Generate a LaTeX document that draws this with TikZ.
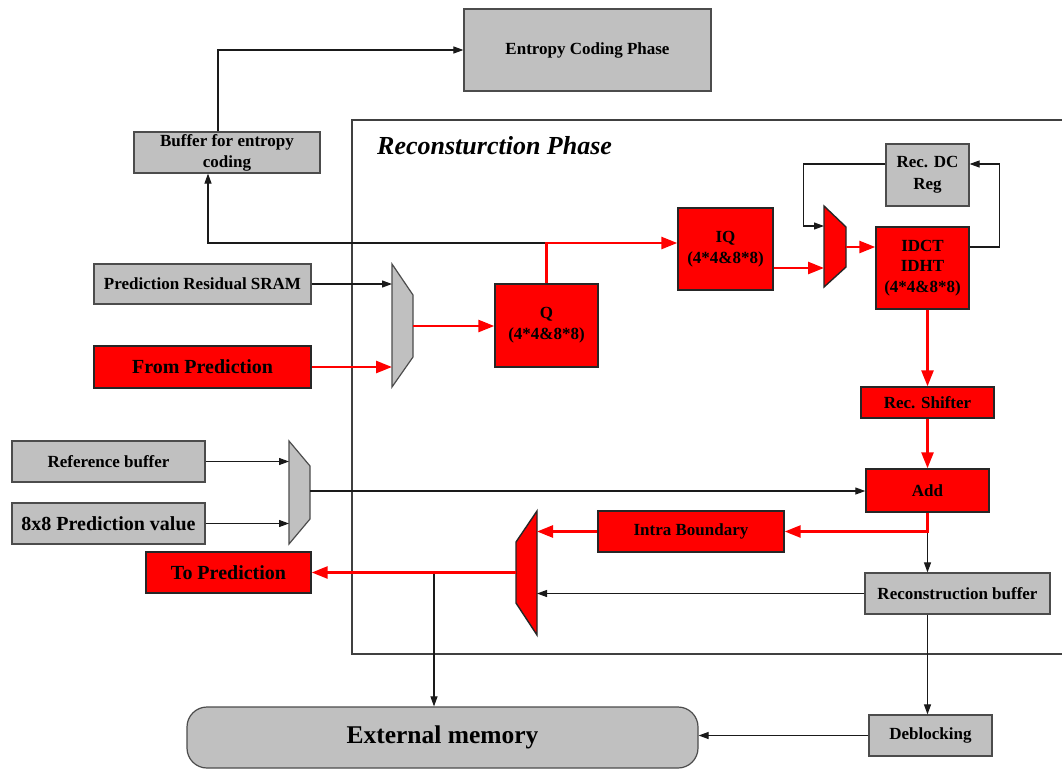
\documentclass[tikz,border=0pt]{standalone}
\usepackage{fontspec}
\setmainfont{Liberation Serif}
\usetikzlibrary{arrows.meta}
\definecolor{boxgray}{HTML}{C0C0C0}
\definecolor{wire}{HTML}{1A1A1A}
\definecolor{hotred}{HTML}{FF0000}
\begin{document}
\begin{tikzpicture}[x=1pt,y=-1pt,
  lbl/.style={font=\bfseries\fontsize{17}{21}\selectfont, align=center, inner sep=0pt},
  gbox/.style={lbl, draw=black!70, fill=boxgray, line width=1.2pt},
  rbox/.style={lbl, draw=black!85, fill=hotred, line width=1.4pt},
  bl/.style={draw=wire, line width=1.1pt, -{Triangle[length=10pt,width=7pt]}},
  rl/.style={draw=hotred, line width=2.6pt, -{Triangle[length=16pt,width=12pt]}},
  gmux/.style={draw=black!70, fill=boxgray, line width=1.2pt},
  rmux/.style={draw=black!85, fill=hotred, line width=1.4pt},
  frame/.style={draw=black!75, line width=1.1pt}]
\useasboundingbox[fill=white] (0,0) rectangle (1062,769);

% phase frame, open towards the right edge
\draw[frame] (1062,120) -- (352,120) -- (352,654) -- (1062,654);
\node[font=\bfseries\itshape\fontsize{26}{30}\selectfont, anchor=base west, inner sep=0pt] (title) at (377,154) {Reconsturction Phase};

% blocks
\node[gbox, minimum width=247pt, minimum height=82pt] (entropy) at (587.5,50) {Entropy Coding Phase};
\node[gbox, minimum width=186pt, minimum height=41pt] (buf) at (227,152.5) {Buffer for entropy\\coding};
\node[gbox, minimum width=217pt, minimum height=40pt] (sram) at (202.5,284) {Prediction Residual SRAM};
\node[rbox, minimum width=217pt, minimum height=42pt, font=\bfseries\fontsize{20}{24}\selectfont] (fromp) at (202.5,367) {From Prediction};
\node[rbox, minimum width=103pt, minimum height=83pt] (Q) at (546.5,325.5) {Q\\(4*4\&8*8)};
\node[rbox, minimum width=95pt, minimum height=82pt] (IQ) at (725.5,249) {IQ\\(4*4\&8*8)};
\node[gbox, minimum width=83pt, minimum height=62pt, font=\bfseries\fontsize{17}{22}\selectfont] (recdc) at (927.5,175) {Rec. DC\\Reg};
\node[rbox, minimum width=93pt, minimum height=82pt, font=\bfseries\fontsize{17}{20.5}\selectfont] (idct) at (922.5,268) {IDCT\\IDHT\\(4*4\&8*8)};
\node[rbox, minimum width=133pt, minimum height=31pt] (recsh) at (927.5,402.5) {Rec. Shifter};
\node[rbox, minimum width=123pt, minimum height=43pt] (add) at (927.5,490.5) {Add};
\node[rbox, minimum width=186pt, minimum height=41pt] (intra) at (691,531.5) {Intra Boundary};
\node[gbox, minimum width=185pt, minimum height=41pt] (recbuf) at (957.5,593.5) {Reconstruction buffer};
\node[gbox, minimum width=123pt, minimum height=41pt] (deblock) at (930.5,735.5) {Deblocking};
\node[gbox, minimum width=193pt, minimum height=41pt] (refbuf) at (108.5,461.5) {Reference buffer};
\node[gbox, minimum width=193pt, minimum height=41pt, font=\bfseries\fontsize{20}{24}\selectfont] (pred8) at (108.5,523.5) {8x8 Prediction value};
\node[rbox, minimum width=165pt, minimum height=41pt, font=\bfseries\fontsize{20}{24}\selectfont] (topred) at (228.5,572.5) {To Prediction};
\node[gbox, rounded corners=20pt, minimum width=511pt, minimum height=61pt, font=\bfseries\fontsize{25.5}{30}\selectfont] (extmem) at (442.5,737.5) {External memory};

% multiplexers
\draw[gmux] (392,264) -- (413,295) -- (413,357) -- (392,387) -- cycle;
\coordinate (muxAinA) at (392,284);
\coordinate (muxAinB) at (392,367);
\coordinate (muxAout) at (413,326);

\draw[rmux] (824,206) -- (846,227) -- (846,267) -- (824,287) -- cycle;
\coordinate (muxBinA) at (824,226);
\coordinate (muxBinB) at (824,268);
\coordinate (muxBout) at (846,247);

\draw[gmux] (289,441) -- (310,466) -- (310,519) -- (289,544) -- cycle;
\coordinate (muxCinA) at (289,461.5);
\coordinate (muxCinB) at (289,523.5);
\coordinate (muxCout) at (310,491);

\draw[rmux] (537,511) -- (537,635) -- (516,603) -- (516,542) -- cycle;
\coordinate (muxDinA) at (537,531.5);
\coordinate (muxDinB) at (537,593.5);
\coordinate (muxDout) at (516,572.5);

% taps
\coordinate (qtap) at (546.5,243);
\coordinate (ptap) at (434,572.5);

% black connectors
\draw[bl] ([xshift=-9pt]buf.north) |- (entropy.west);
\draw[bl] (qtap) -| ([xshift=-19pt]buf.south);
\draw[bl] (sram.east) -- (muxAinA);
\draw[bl] (idct.east |- muxBout) -- ++(30,0) |- ([yshift=11pt]recdc.east);
\draw[bl] ([yshift=11pt]recdc.west) -- ++(-82,0) |- (muxBinA);
\draw[bl] (refbuf.east) -- (muxCinA);
\draw[bl] (pred8.east) -- (muxCinB);
\draw[bl] (muxCout) -- (muxCout -| add.west);
\draw[bl] (add.south |- intra.east) -- (add.south |- recbuf.north);
\draw[bl] (recbuf.west) -- (muxDinB);
\draw[bl] (add.south |- recbuf.south) -- (add.south |- deblock.north);
\draw[bl] (deblock.west) -- (deblock.west -| extmem.east);
\draw[bl] (ptap) -- (ptap |- extmem.north);

% red data path
\draw[rl] (fromp.east) -- (muxAinB);
\draw[rl] (muxAout) -- (muxAout -| Q.west);
\draw[rl] (Q.north) |- (qtap) -- (qtap -| IQ.west);
\draw[rl] (IQ.east |- muxBinB) -- (muxBinB);
\draw[rl] (muxBout) -- (muxBout -| idct.west);
\draw[rl] (recsh.north |- idct.south) -- (recsh.north);
\draw[rl] (recsh.south) -- (add.north);
\draw[rl] (add.south) |- (intra.east);
\draw[rl] (intra.west) -- (muxDinA);
\draw[rl] (muxDout) -- (topred.east);
\end{tikzpicture}
\end{document}
